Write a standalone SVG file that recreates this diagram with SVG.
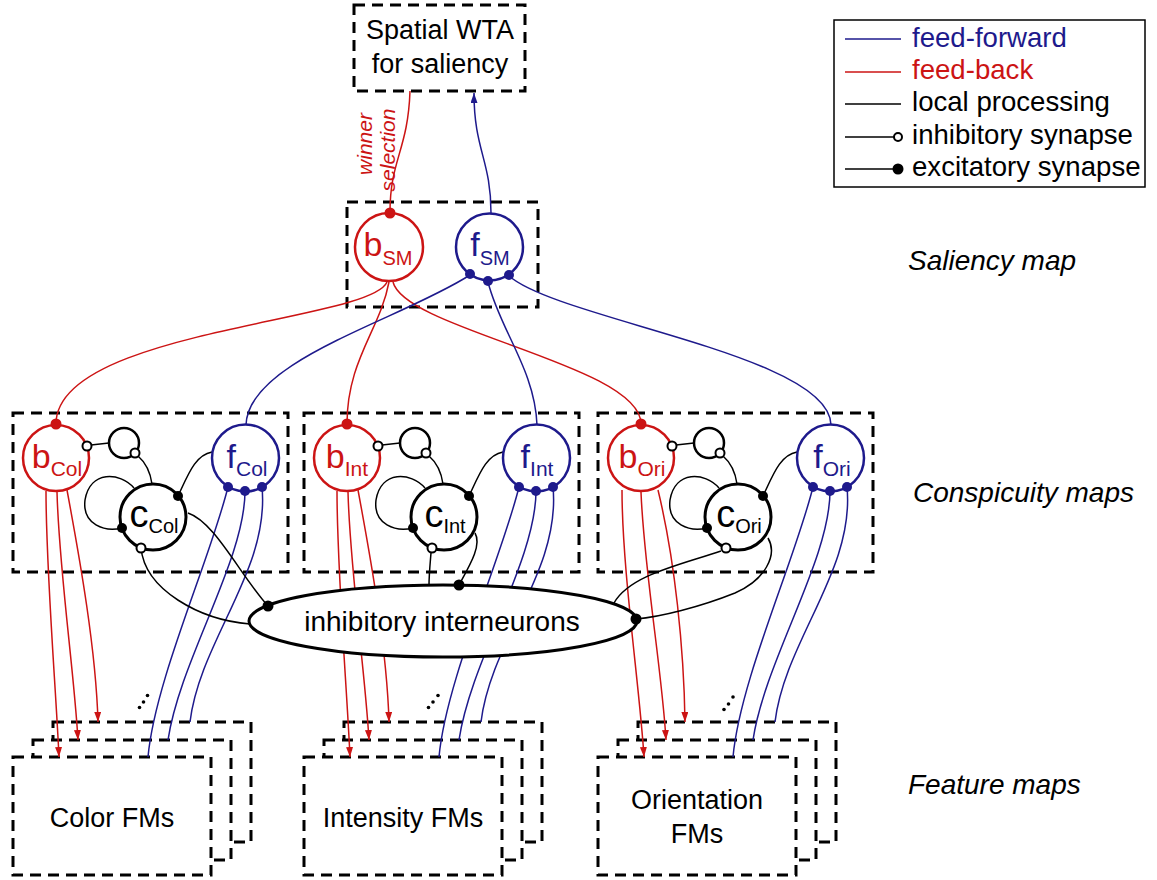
<svg xmlns="http://www.w3.org/2000/svg" width="1157" height="880" viewBox="0 0 1157 880">
<style>
text{font-family:"Liberation Sans",Arial,Helvetica,sans-serif}
.box{fill:none;stroke:#000;stroke-width:3;stroke-dasharray:11 7}
.fm{fill:#fff;stroke:#000;stroke-width:3;stroke-dasharray:11 7}
.r{fill:none;stroke:#cc1414;stroke-width:1.5}
.b{fill:none;stroke:#1e1a8c;stroke-width:1.5}
.k{fill:none;stroke:#000;stroke-width:1.5}
.rc{fill:#fff;stroke:#cc1414;stroke-width:2.5}
.bc{fill:#fff;stroke:#1e1a8c;stroke-width:2.5}
.kc{fill:#fff;stroke:#000;stroke-width:3}
.loop{fill:none;stroke:#000;stroke-width:2.5}
.inh{fill:#fff;stroke:#000;stroke-width:2}
.exc{fill:#000}
.rd{fill:#cc1414}
.bd{fill:#1e1a8c}
.lbl{font-size:27px;fill:#000}
.leg{font-size:27.6px;fill:#000}
.it{font-size:28px;font-style:italic;fill:#000}
.rt{fill:#cc1414}
.bt{fill:#1e1a8c}
.kt{fill:#000}
</style>
<defs>
<marker id="ar" markerUnits="userSpaceOnUse" markerWidth="10" markerHeight="8" refX="10" refY="3.5" orient="auto"><path d="M0,0 L10,3.5 L0,7 z" fill="#cc1414"/></marker>
<marker id="ab" markerUnits="userSpaceOnUse" markerWidth="10" markerHeight="8" refX="10" refY="3.5" orient="auto"><path d="M0,0 L10,3.5 L0,7 z" fill="#1e1a8c"/></marker>
</defs>
<rect width="1157" height="880" fill="#fff"/>

<!-- boxes -->
<g id="wta">
<rect class="box" x="354" y="5" width="171" height="86"/>
<text class="lbl" x="440" y="39" text-anchor="middle">Spatial WTA</text>
<text class="lbl" x="440" y="73" text-anchor="middle">for saliency</text>
</g>
<g id="saliency-box"><rect class="box" x="347" y="202" width="191" height="105"/></g>
<g id="col-box"><rect class="box" x="13" y="413" width="275" height="159"/></g>
<g id="int-box"><rect class="box" x="304" y="413" width="275" height="159"/></g>
<g id="ori-box"><rect class="box" x="598" y="413" width="275" height="159"/></g>

<!-- feature map stacks -->
<g id="fm-col">
<rect class="fm" x="53" y="722" width="198" height="120"/>
<rect class="fm" x="33" y="740" width="198" height="120"/>
<rect class="fm" x="13" y="757" width="198" height="118"/>
<text class="lbl" x="112" y="827" text-anchor="middle">Color FMs</text>
<circle cx="139.5" cy="707.5" r="1.8"/><circle cx="143.5" cy="702" r="1.8"/><circle cx="147.5" cy="695.5" r="1.8"/>
</g>
<g id="fm-int" transform="translate(291,0)">
<rect class="fm" x="53" y="722" width="198" height="120"/>
<rect class="fm" x="33" y="740" width="198" height="120"/>
<rect class="fm" x="13" y="757" width="198" height="118"/>
<text class="lbl" x="112" y="827" text-anchor="middle">Intensity FMs</text>
<circle cx="137.5" cy="707.5" r="1.8"/><circle cx="142" cy="702" r="1.8"/><circle cx="147" cy="695.5" r="1.8"/>
</g>
<g id="fm-ori" transform="translate(585,0)">
<rect class="fm" x="53" y="722" width="198" height="120"/>
<rect class="fm" x="33" y="740" width="198" height="120"/>
<rect class="fm" x="13" y="757" width="198" height="118"/>
<text class="lbl" x="112" y="809" text-anchor="middle">Orientation</text>
<text class="lbl" x="112" y="843" text-anchor="middle">FMs</text>
<circle cx="139" cy="709.5" r="1.8"/><circle cx="143.5" cy="704" r="1.8"/><circle cx="148" cy="697" r="1.8"/>
</g>

<!-- connectors -->
<g id="connectors">
<path class="r" d="M410,91 C408,150 390,160 390,212"/>
<path class="b" d="M491,213 C491,160 474,150 474,93" marker-end="url(#ab)"/>
<path class="r" d="M387,282 C370,322 56,330 56,424"/>
<path class="r" d="M389,282 C380,330 347,360 347,424"/>
<path class="r" d="M393,282 C405,330 641,365 641,424"/>
<path class="b" d="M470,275 C400,320 248,360 246,425"/>
<path class="b" d="M488,282 C500,330 535,370 537,425"/>
<path class="b" d="M509,276 C560,320 830,355 831,425"/>

<g id="col-lines">
<path class="r" d="M46,491 C46,570 56,690 59,757" marker-end="url(#ar)"/>
<path class="r" d="M57,492 C59,570 74,670 78,740" marker-end="url(#ar)"/>
<path class="r" d="M67,490 C80,560 96,650 98,722" marker-end="url(#ar)"/>
<path class="b" d="M228,487 C210,560 155,680 148,757"/>
<path class="b" d="M245,491 C245,560 180,660 168,740"/>
<path class="b" d="M262,487 C270,570 200,640 190,722"/>
<path class="k" d="M91,445 L109,443"/>
<path class="k" d="M152,484 C150,470 145,462 138,456"/>
<path class="k" d="M178,496 C188,475 195,455 212,452"/>
<path class="k" d="M134,488 C120,472 90,470 85,500 C82,525 105,532 122,528"/>
<path class="k" d="M141,548 C145,590 200,620 250,624"/>
<path class="k" d="M188,513 C215,522 240,575 268,606"/>
</g>
<g id="int-lines">
<g transform="translate(291,0)">
<path class="r" d="M46,491 C46,570 56,690 59,757" marker-end="url(#ar)"/>
<path class="r" d="M57,492 C59,570 74,670 78,740" marker-end="url(#ar)"/>
<path class="r" d="M67,490 C80,560 96,650 98,722" marker-end="url(#ar)"/>
<path class="b" d="M228,487 C210,560 155,680 148,757"/>
<path class="b" d="M245,491 C245,560 180,660 168,740"/>
<path class="b" d="M262,487 C270,570 200,640 190,722"/>
<path class="k" d="M91,445 L109,443"/>
<path class="k" d="M152,484 C150,470 145,462 138,456"/>
<path class="k" d="M178,496 C188,475 195,455 212,452"/>
<path class="k" d="M134,488 C120,472 90,470 85,500 C82,525 105,532 122,528"/>
</g>
<path class="k" d="M431,553 C430,565 429,575 429,586"/>
<path class="k" d="M475,533 C482,545 470,565 459,585"/>
</g>
<g id="ori-lines">
<path class="r" d="M622,490 C622,570 640,690 644,757" marker-end="url(#ar)"/>
<path class="r" d="M641,492 C644,570 662,670 666,740" marker-end="url(#ar)"/>
<path class="r" d="M658,490 C675,560 684,650 685,722" marker-end="url(#ar)"/>
<g transform="translate(585,0)">
<path class="b" d="M228,487 C210,560 155,680 148,757"/>
<path class="b" d="M245,491 C245,560 180,660 168,740"/>
<path class="b" d="M262,487 C270,570 200,640 190,722"/>
<path class="k" d="M91,445 L109,443"/>
<path class="k" d="M152,484 C150,470 145,462 138,456"/>
<path class="k" d="M178,496 C188,475 195,455 212,452"/>
<path class="k" d="M134,488 C120,472 90,470 85,500 C82,525 105,532 122,528"/>
</g>
<path class="k" d="M721,551 C680,565 630,575 614,603"/>
<path class="k" d="M768,538 C778,555 765,580 735,593 C700,607 660,617 636,619"/>
</g>
</g>

<!-- inhibitory interneurons -->
<g id="interneurons">
<ellipse cx="443" cy="621" rx="194" ry="36" fill="#fff" stroke="#000" stroke-width="3"/>
<text x="442" y="631" text-anchor="middle" font-size="28">inhibitory interneurons</text>
<circle class="exc" cx="268" cy="606" r="5.5"/>
<circle class="exc" cx="459" cy="585" r="5.5"/>
<circle class="exc" cx="636" cy="619" r="5.5"/>
</g>

<!-- saliency map nodes -->
<g id="b-sm">
<circle class="rc" cx="389" cy="247" r="34"/>
<circle class="rd" cx="390" cy="213" r="5.5"/>
<text class="rt" x="388" y="256" text-anchor="middle" font-size="34">b<tspan font-size="20" dy="9">SM</tspan></text>
</g>
<g id="f-sm">
<circle class="bc" cx="489.5" cy="247" r="33.5"/>
<circle class="bd" cx="470" cy="274" r="5"/>
<circle class="bd" cx="488" cy="281" r="5"/>
<circle class="bd" cx="509" cy="275" r="5"/>
<text class="bt" x="490" y="256" text-anchor="middle" font-size="34">f<tspan font-size="20" dy="9">SM</tspan></text>
</g>

<!-- color conspicuity nodes -->
<g id="b-col">
<circle class="rc" cx="56" cy="458" r="33"/>
<circle class="rd" cx="56" cy="424" r="5.5"/>
<circle class="inh" cx="87" cy="446" r="4.5"/>
<text class="rt" x="57" y="468" text-anchor="middle" font-size="34">b<tspan font-size="21" dy="8">Col</tspan></text>
</g>
<g id="self-col">
<circle class="loop" cx="124" cy="443" r="15"/>
<circle class="inh" cx="135" cy="453" r="4.5"/>
</g>
<g id="c-col">
<circle class="kc" cx="153" cy="517" r="33"/>
<circle class="exc" cx="178" cy="496" r="5"/>
<circle class="exc" cx="122" cy="528" r="5"/>
<circle class="inh" cx="141" cy="548" r="4.5"/>
<text class="kt" x="154" y="527" text-anchor="middle" font-size="38">c<tspan font-size="20" dy="6">Col</tspan></text>
</g>
<g id="f-col">
<circle class="bc" cx="245.5" cy="458" r="33.5"/>
<circle class="bd" cx="228" cy="487" r="5"/>
<circle class="bd" cx="245" cy="491" r="5"/>
<circle class="bd" cx="262" cy="487" r="5"/>
<text class="bt" x="247" y="468" text-anchor="middle" font-size="34">f<tspan font-size="21" dy="8">Col</tspan></text>
</g>

<!-- intensity conspicuity nodes -->
<g id="b-int" transform="translate(291,0)">
<circle class="rc" cx="56" cy="458" r="33"/>
<circle class="rd" cx="56" cy="424" r="5.5"/>
<circle class="inh" cx="87" cy="446" r="4.5"/>
<text class="rt" x="56" y="468" text-anchor="middle" font-size="34">b<tspan font-size="21" dy="8">Int</tspan></text>
</g>
<g id="self-int" transform="translate(291,0)">
<circle class="loop" cx="124" cy="443" r="15"/>
<circle class="inh" cx="135" cy="453" r="4.5"/>
</g>
<g id="c-int" transform="translate(291,0)">
<circle class="kc" cx="153" cy="517" r="33"/>
<circle class="exc" cx="178" cy="496" r="5"/>
<circle class="exc" cx="122" cy="528" r="5"/>
<circle class="inh" cx="141" cy="548" r="4.5"/>
<text class="kt" x="154" y="527" text-anchor="middle" font-size="38">c<tspan font-size="20" dy="6">Int</tspan></text>
</g>
<g id="f-int" transform="translate(291,0)">
<circle class="bc" cx="245.5" cy="458" r="33.5"/>
<circle class="bd" cx="228" cy="487" r="5"/>
<circle class="bd" cx="245" cy="491" r="5"/>
<circle class="bd" cx="262" cy="487" r="5"/>
<text class="bt" x="246" y="468" text-anchor="middle" font-size="34">f<tspan font-size="21" dy="8">Int</tspan></text>
</g>

<!-- orientation conspicuity nodes -->
<g id="b-ori" transform="translate(585,0)">
<circle class="rc" cx="56" cy="458" r="33"/>
<circle class="rd" cx="56" cy="424" r="5.5"/>
<circle class="inh" cx="87" cy="446" r="4.5"/>
<text class="rt" x="57" y="468" text-anchor="middle" font-size="34">b<tspan font-size="21" dy="8">Ori</tspan></text>
</g>
<g id="self-ori" transform="translate(585,0)">
<circle class="loop" cx="124" cy="443" r="15"/>
<circle class="inh" cx="135" cy="453" r="4.5"/>
</g>
<g id="c-ori" transform="translate(585,0)">
<circle class="kc" cx="153" cy="517" r="33"/>
<circle class="exc" cx="178" cy="496" r="5"/>
<circle class="exc" cx="122" cy="528" r="5"/>
<circle class="inh" cx="141" cy="548" r="4.5"/>
<text class="kt" x="154" y="527" text-anchor="middle" font-size="38">c<tspan font-size="20" dy="6">Ori</tspan></text>
</g>
<g id="f-ori" transform="translate(585,0)">
<circle class="bc" cx="245.5" cy="458" r="33.5"/>
<circle class="bd" cx="228" cy="487" r="5"/>
<circle class="bd" cx="245" cy="491" r="5"/>
<circle class="bd" cx="262" cy="487" r="5"/>
<text class="bt" x="247" y="468" text-anchor="middle" font-size="34">f<tspan font-size="21" dy="8">Ori</tspan></text>
</g>

<!-- winner selection label -->
<g id="winner-label" fill="#cc1414" font-size="21" font-style="italic">
<text transform="translate(372,144) rotate(-90)" text-anchor="middle" font-family="Liberation Sans, Arial, sans-serif">winner</text>
<text transform="translate(395,150) rotate(-90)" text-anchor="middle" font-family="Liberation Sans, Arial, sans-serif">selection</text>
</g>

<!-- level labels -->
<g id="level-labels">
<text class="it" x="908" y="270">Saliency map</text>
<text class="it" x="913" y="502">Conspicuity maps</text>
<text class="it" x="908" y="794">Feature maps</text>
</g>

<!-- legend -->
<g id="legend">
<rect x="834" y="20" width="311" height="167" fill="#fff" stroke="#000" stroke-width="1.5"/>
<line x1="845" y1="39" x2="901" y2="39" class="b"/>
<line x1="845" y1="72" x2="901" y2="72" class="r"/>
<line x1="845" y1="104" x2="901" y2="104" class="k"/>
<line x1="845" y1="137" x2="894" y2="137" class="k"/>
<circle class="inh" cx="898" cy="137" r="4"/>
<line x1="845" y1="169" x2="894" y2="169" class="k"/>
<circle class="exc" cx="898" cy="169" r="5.5"/>
<text class="leg bt" x="912" y="47">feed-forward</text>
<text class="leg rt" x="912" y="79">feed-back</text>
<text class="leg" x="912" y="111">local processing</text>
<text class="leg" x="912" y="144">inhibitory synapse</text>
<text class="leg" x="912" y="176">excitatory synapse</text>
</g>
</svg>
